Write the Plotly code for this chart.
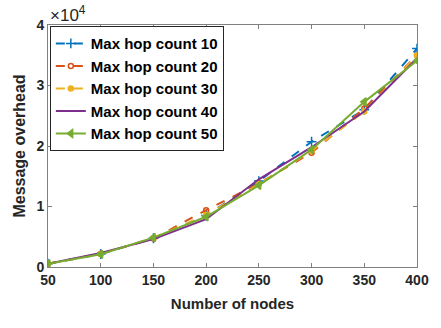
import plotly.graph_objects as go

nodes = [50, 100, 150, 200, 250, 300, 350, 400]
hop10 = [550, 2150, 4750, 8500, 14200, 20700, 26000, 36100]
hop20 = [550, 2200, 4700, 9400, 13800, 18900, 26200, 35000]
hop30 = [550, 2150, 4800, 8600, 13700, 19200, 25700, 35000]
hop40 = [550, 2300, 4600, 7900, 14500, 19800, 25700, 34500]
hop50 = [550, 2100, 4850, 8300, 13500, 19400, 27300, 34100]

ytick_vals = [0, 10000, 20000, 30000, 40000]
ytick_text = ["0", "1", "2", "3", "4"]
xtick_vals = [50, 100, 150, 200, 250, 300, 350, 400]

series = [
    ("Max hop count 10", hop10, "#0072BD", "dash", "cross-thin-open", 7),
    ("Max hop count 20", hop20, "#D95319", "dash", "circle-open", 5),
    ("Max hop count 30", hop30, "#EDB120", "dash", "circle", 5),
    ("Max hop count 40", hop40, "#7E2F8E", "solid", None, 0),
    ("Max hop count 50", hop50, "#77AC30", "solid", "triangle-left", 7),
]

fig = go.Figure()
for name, ys, color, dash, sym, size in series:
    if sym:
        fig.add_trace(go.Scatter(
            x=nodes, y=ys, name=name, mode="lines+markers",
            line=dict(color=color, width=2, dash=dash),
            marker=dict(symbol=sym, size=size, color=color,
                        line=dict(color=color, width=1.5))))
    else:
        fig.add_trace(go.Scatter(
            x=nodes, y=ys, name=name, mode="lines",
            line=dict(color=color, width=2, dash=dash)))

font_family = "Liberation Sans, Arial, sans-serif"
fig.update_layout(
    width=441, height=328,
    margin=dict(l=48, r=12, t=25, b=61),
    paper_bgcolor="white", plot_bgcolor="white",
    font=dict(family=font_family, size=14, color="#262626"),
    showlegend=True,
    legend=dict(x=0.005, y=0.995, xanchor="left", yanchor="top",
                bgcolor="white", bordercolor="#262626", borderwidth=1,
                font=dict(family=font_family, size=15, color="black", weight="bold"),
                tracegroupgap=0, itemwidth=30),
    xaxis=dict(range=[50, 400], tickvals=xtick_vals,
               ticks="inside", ticklen=4, tickcolor="#808080",
               showline=True, linecolor="#808080", linewidth=1, mirror="ticks",
               showgrid=False, zeroline=False,
               tickfont=dict(size=14, weight="bold", color="#262626"),
               title=dict(text="Number of nodes", standoff=11,
                          font=dict(size=15, weight="bold", color="#262626"))),
    yaxis=dict(range=[0, 40000], tickvals=ytick_vals, ticktext=ytick_text,
               ticks="inside", ticklen=4, tickcolor="#808080",
               showline=True, linecolor="#808080", linewidth=1, mirror="ticks",
               showgrid=False, zeroline=False,
               tickfont=dict(size=14, weight="bold", color="#262626"),
               title=dict(text="Message overhead", standoff=6,
                          font=dict(size=16, weight="bold", color="#262626"))),
)
fig.add_annotation(xref="paper", yref="paper", x=0.0, y=1.0, xanchor="left", yanchor="bottom",
                   text="×10<sup>4</sup>", showarrow=False,
                   font=dict(family=font_family, size=17, color="#262626"), yshift=-2)

fig.write_html("out.html")
